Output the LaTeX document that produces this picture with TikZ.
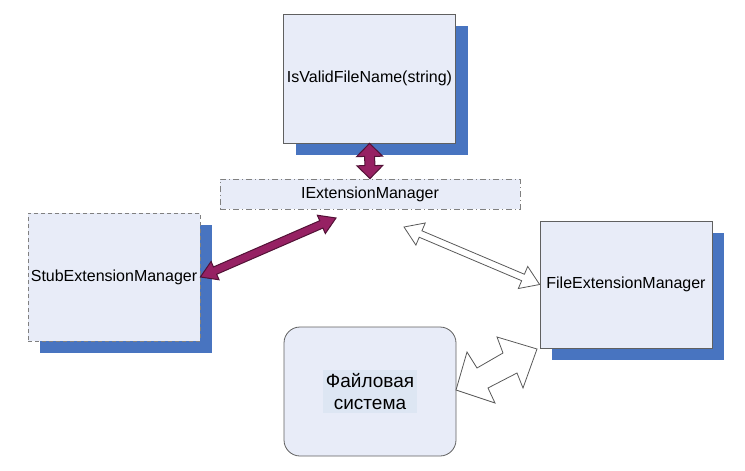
\documentclass[tikz,border=0pt]{standalone}
\usepackage{fontspec}
\setmainfont{Liberation Sans}
\usetikzlibrary{positioning,calc,shadows}
\definecolor{boxfill}{HTML}{E8ECF8}
\definecolor{shadowblue}{HTML}{4874C0}
\definecolor{arrowpurple}{HTML}{962163}
\definecolor{labelfill}{HTML}{DDE6F3}
\newcommand*{\dblarrow}[6]{%
\draw[#1] (#2) -- ($(#2)!#4!(#3)!#5!90:(#3)$) -- ($(#2)!#4!(#3)!#6!90:(#3)$)
	-- ($(#3)!#4!(#2)!#6!-90:(#2)$) -- ($(#3)!#4!(#2)!#5!-90:(#2)$) -- (#3)
	-- ($(#3)!#4!(#2)!#5!90:(#2)$) -- ($(#3)!#4!(#2)!#6!90:(#2)$)
	-- ($(#2)!#4!(#3)!#6!-90:(#3)$) -- ($(#2)!#4!(#3)!#5!-90:(#3)$) -- cycle;
}
\begin{document}
\begin{tikzpicture}[x=1pt,y=-1pt]
		\tikzset{
			basefont/.style = {font = \fontsize{16}{19}\selectfont},
			box/.style = {basefont, align = center, inner sep = 0pt, fill = boxfill, draw = gray!75!black, line width = 0.8pt},
			shadowbox/.style = {box, minimum width = 172pt, minimum height = 128pt,
				drop shadow = {shadow xshift = 12pt, shadow yshift = -12pt, fill = shadowblue, opacity = 1}},
			dashbox/.style = {shadowbox, draw = gray, dash pattern = on 4pt off 3pt},
			ifacebox/.style = {box, draw = gray, minimum width = 300pt, minimum height = 30pt, dash pattern = on 6pt off 3pt on 1pt off 3pt},
			fsbox/.style = {box, minimum width = 172pt, minimum height = 129pt, rounded corners = 16pt},
			fslabel/.style = {font = \fontsize{19}{22}\selectfont, align = center, fill = labelfill, inner sep = 3pt},
			purplearrow/.style = {fill = arrowpurple, draw = arrowpurple!55!black, line width = 1pt, line join = miter},
			whitearrow/.style = {fill = white, draw = gray!70!black, line width = 0.8pt},
		};
		\useasboundingbox (0,0) rectangle (745,471);

		\node[shadowbox, minimum height = 129pt] (valid) at (369.5,78.5) {IsValidFileName(string)};
		\node[ifacebox] (iface) at (370,194) {IExtensionManager};
		\node[dashbox] (stub) at (114,277) {StubExtensionManager};
		\node[shadowbox, minimum height = 127pt] (fileman) at (626,284.5) {FileExtensionManager};
		\node[fsbox] (fs) at (370,391.5) {};
		\node[fslabel] (fs-label) at (fs.center) {Файловая\\система};

		\coordinate (stub-tip) at (336,218);
		\coordinate (file-tip) at (404,227);

		\dblarrow{purplearrow}{valid.south}{iface.north}{13pt}{13pt}{5pt}
		\dblarrow{purplearrow}{stub.east}{stub-tip}{16pt}{10pt}{4pt}
		\dblarrow{whitearrow}{file-tip}{fileman.west}{18pt}{12pt}{3.5pt}

		\draw[whitearrow] (456,390) -- (467,352) -- (477,368) -- (503,353) -- (497,337) -- (537,349)
			-- (523,388) -- (517,373) -- (488,388) -- (495,403) -- cycle;
	\end{tikzpicture}
\end{document}
